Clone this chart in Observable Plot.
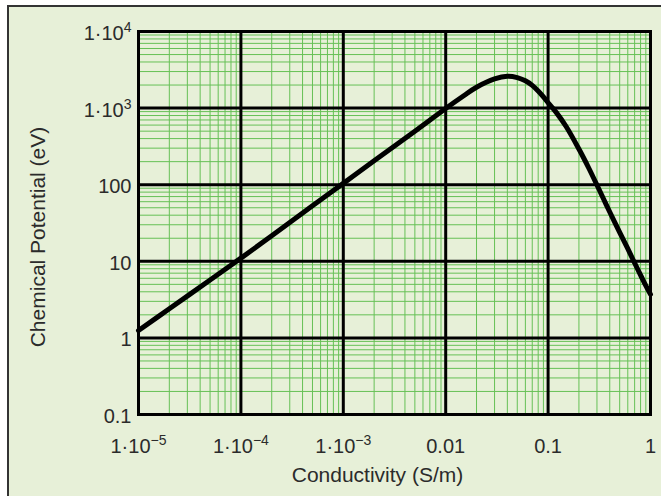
<!DOCTYPE html>
<html>
<head>
<meta charset="utf-8">
<script src="https://cdn.jsdelivr.net/npm/d3@7"></script>
<script src="https://cdn.jsdelivr.net/npm/@observablehq/plot@0.6"></script>
<style>
  html, body { margin: 0; padding: 0; background: #fff; overflow: hidden; width: 661px; height: 496px; }
  #panel { position: absolute; left: 7px; top: 5px; width: 700px; height: 600px; border: 2px solid #333; background: #e7f0d8; }
  #chart { position: absolute; left: 0; top: 0; }
</style>
</head>
<body>
<div id="panel"></div>
<div id="chart"></div>
<script>
// Chemical potential versus conductivity (log-log)
const conductivity = [1e-5, 2e-5, 5e-5, 1e-4, 2e-4, 5e-4, 1e-3, 2e-3, 5e-3, 0.01, 0.015, 0.02, 0.03, 0.04, 0.05, 0.06, 0.07, 0.08, 0.09, 0.1, 0.12, 0.15, 0.2, 0.25, 0.3, 0.35, 0.4, 0.5, 0.6, 0.7, 0.8, 0.9, 1.0];
const potential    = [1.25, 2.4, 5.7, 11, 21.5, 53, 104, 205, 500, 990, 1450, 1870, 2400, 2600, 2500, 2270, 1980, 1670, 1400, 1175, 880, 575, 292, 164, 99, 64, 44, 23.8, 14.6, 9.5, 6.6, 4.8, 3.7];

// Axis ticks and their labels
const xTicks = [1e-5, 1e-4, 1e-3, 0.01, 0.1, 1];
const xTickLabels = ["1·10⁻⁵", "1·10⁻⁴", "1·10⁻³", "0.01", "0.1", "1"];
const yTicks = [0.1, 1, 10, 100, 1e3, 1e4];
const yTickLabels = ["0.1", "1", "10", "100", "1·10³", "1·10⁴"];

const xTitle = "Conductivity (S/m)";
const yTitle = "Chemical Potential (eV)";

// Minor grid lines: 2..9 within each decade
const minorSteps = [2, 3, 4, 5, 6, 7, 8, 9];
const minorLines = (ticks) => ticks.slice(0, -1).flatMap(t => minorSteps.map(m => t * m));
const xMinor = minorLines(xTicks);
const yMinor = minorLines(yTicks);

const rows = conductivity.map((c, i) => ({c, p: potential[i]}));
const xLabel = new Map(xTicks.map((v, i) => [v, xTickLabels[i]]));
const yLabel = new Map(yTicks.map((v, i) => [v, yTickLabels[i]]));

const green = "#66c056";
const ink = "#2b2b2b";

const chart = Plot.plot({
  width: 661,
  height: 496,
  marginLeft: 138,
  marginRight: 11,
  marginTop: 31,
  marginBottom: 82,
  style: {background: "transparent", fontFamily: "'Liberation Sans', Arial, sans-serif", color: ink},
  x: {type: "log", domain: [1e-5, 1]},
  y: {type: "log", domain: [0.1, 1e4]},
  marks: [
    Plot.ruleX(xMinor, {stroke: green, strokeWidth: 1}),
    Plot.ruleY(yMinor, {stroke: green, strokeWidth: 1}),
    Plot.ruleX(xTicks, {stroke: "#000", strokeWidth: 3}),
    Plot.ruleY(yTicks, {stroke: "#000", strokeWidth: 3}),
    Plot.frame({stroke: "#000", strokeWidth: 3}),
    Plot.line(rows, {x: "c", y: "p", stroke: "#000", strokeWidth: 5, curve: "catmull-rom"}),
    Plot.axisX(xTicks, {tickFormat: d => xLabel.get(d), tickSize: 0, tickPadding: 24, label: null, fontSize: 20, fill: ink}),
    Plot.axisY(yTicks, {tickFormat: d => yLabel.get(d), tickSize: 0, tickPadding: 7, label: null, fontSize: 20, dy: 2, fill: ink}),
    Plot.text([xTitle], {text: d => d, frameAnchor: "bottom", textAnchor: "middle", lineAnchor: "middle", dy: 61, dx: -17, fontSize: 21, fill: ink}),
    Plot.text([yTitle], {text: d => d, frameAnchor: "left", textAnchor: "middle", lineAnchor: "middle", dx: -100, dy: 14, rotate: -90, fontSize: 21, fill: ink})
  ]
});

// Render exponents as raised, smaller tspans
const sup = {"⁰":"0","¹":"1","²":"2","³":"3","⁴":"4","⁵":"5","⁶":"6","⁷":"7","⁸":"8","⁹":"9","⁻":"−"};
chart.querySelectorAll("text").forEach(t => {
  const s = t.textContent;
  const m = s.match(/^(.*?)([⁰¹²³⁴⁵⁶⁷⁸⁹⁻]+)$/);
  if (!m || t.children.length) return;
  t.textContent = m[1];
  const ts = document.createElementNS("http://www.w3.org/2000/svg", "tspan");
  ts.setAttribute("font-size", "14");
  ts.setAttribute("dy", "-8");
  ts.textContent = [...m[2]].map(ch => sup[ch]).join("");
  t.appendChild(ts);
});

document.getElementById("chart").appendChild(chart);
</script>
</body>
</html>
